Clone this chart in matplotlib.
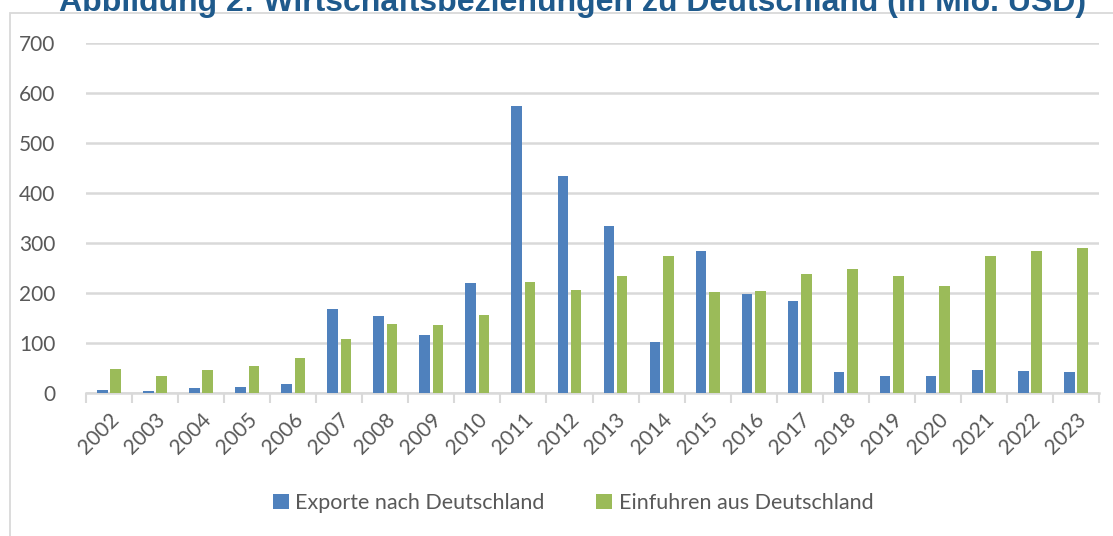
import matplotlib.pyplot as plt
import numpy as np
from matplotlib.patches import Patch, Rectangle
from matplotlib.transforms import ScaledTranslation

# Data (Mio. USD)
years = [str(y) for y in range(2002, 2024)]
exporte = [7, 5, 11, 12, 19, 169, 155, 117, 221, 575, 434, 335, 103, 285,
           198, 184, 43, 34, 34, 47, 45, 43]
einfuhren = [48, 34, 46, 54, 70, 109, 138, 137, 157, 223, 206, 235, 275, 203,
             205, 239, 249, 235, 215, 275, 285, 290]

blue = "#4F81BD"
green = "#9BBB59"
grid_c = "#D9D9D9"
text_c = "#595959"

plt.rcParams['font.family'] = ['Lato', 'DejaVu Sans']

fig = plt.figure(figsize=(11.13, 5.36), dpi=100)
W, H = 1113, 536

# chart frame (cropped screenshot of an Excel chart)
frame = Rectangle((10 / W, -0.05), 1.2, 1 - 13 / H + 0.05, transform=fig.transFigure,
                  fill=False, edgecolor=grid_c, linewidth=1.3)
fig.add_artist(frame)

# title, cut off at the top like in the source
fig.text(573 / W, 1 - 11 / H, "Abbildung 2: Wirtschaftsbeziehungen zu Deutschland (in Mio. USD)",
         ha='center', va='baseline', fontsize=23, fontweight='bold',
         color="#1F5A8C", family='Liberation Sans')

ax = fig.add_axes([86 / W, 1 - 393 / H, (1099 - 86) / W, 350 / H])

x = np.arange(len(years))
bw = 0.23
off = 0.145
ax.bar(x - off, exporte, bw, color=blue, zorder=3)
ax.bar(x + off, einfuhren, bw, color=green, zorder=3)

ax.set_xlim(-0.5, len(years) - 0.5)
ax.set_ylim(0, 700)
ax.set_yticks(range(0, 701, 100))
ax.yaxis.grid(True, color=grid_c, linewidth=1.8, zorder=0)
ax.set_axisbelow(True)

for s in ['top', 'right', 'left']:
    ax.spines[s].set_visible(False)
ax.spines['bottom'].set_color(grid_c)
ax.spines['bottom'].set_linewidth(1.8)

ax.tick_params(axis='y', length=0, pad=22, labelsize=15, labelcolor=text_c)
ax.set_xticks(x)
ax.set_xticklabels(years, rotation=45, ha='right', va='center',
                   rotation_mode='anchor', fontsize=15, color=text_c)
ax.tick_params(axis='x', which='major', length=0, pad=17)
# nudge the rotated year labels to the right, as in the source
shift = ScaledTranslation(0.07, 0, fig.dpi_scale_trans)
for lbl in ax.get_xticklabels():
    lbl.set_transform(lbl.get_transform() + shift)
ax.set_xticks(np.arange(-0.5, len(years)), minor=True)
ax.tick_params(axis='x', which='minor', length=7, width=1.5, color=grid_c)

handles = [Patch(facecolor=blue, label="Exporte nach Deutschland"),
           Patch(facecolor=green, label="Einfuhren aus Deutschland")]
fig.legend(handles=handles, loc='center', bbox_to_anchor=(573 / W, 1 - 503 / H),
           ncol=2, frameon=False, fontsize=15.5, labelcolor=text_c,
           handlelength=0.75, handleheight=0.75, handletextpad=0.3,
           columnspacing=2.4)

fig.savefig("out.png", dpi=100)
